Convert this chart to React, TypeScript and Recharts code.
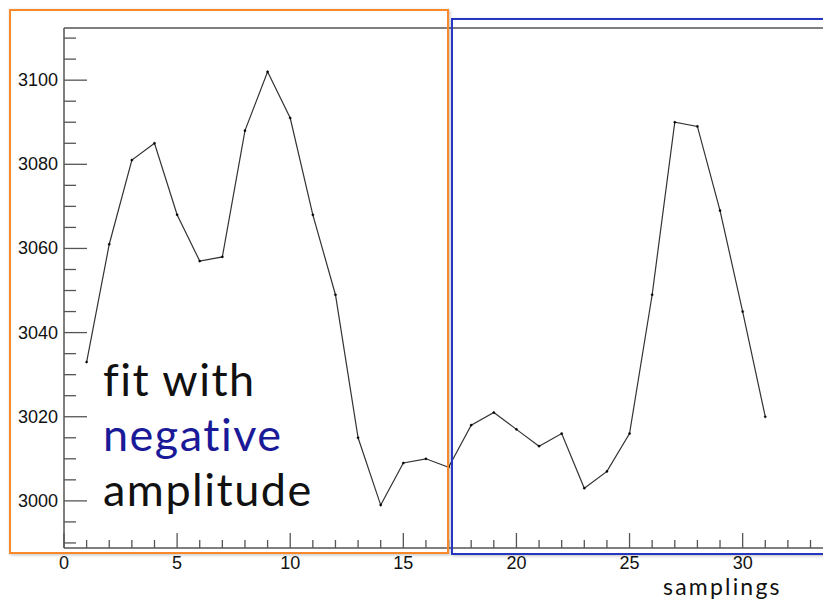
import React from "react";
import { LineChart, Line, XAxis, YAxis, ReferenceLine } from "recharts";

const samplings = [1, 2, 3, 4, 5, 6, 7, 8, 9, 10, 11, 12, 13, 14, 15, 16, 17, 18, 19, 20, 21, 22, 23, 24, 25, 26, 27, 28, 29, 30, 31];
const amplitudes = [3033, 3061, 3081, 3085, 3068, 3057, 3058, 3088, 3102, 3091, 3068, 3049, 3015, 2999, 3009, 3010, 3008, 3018, 3021, 3017, 3013, 3016, 3003, 3007, 3016, 3049, 3090, 3089, 3069, 3045, 3020];

const xTicks = Array.from({ length: 38 }, (_, i) => i);
const xLabels = [0, 5, 10, 15, 20, 25, 30];
const yTicks = Array.from({ length: 25 }, (_, i) => 2990 + i * 5);
const yLabels = [3000, 3020, 3040, 3060, 3080, 3100];
const xDomain = [0, 37];
const yDomain = [2988.8, 3112.4];

const data = samplings.map((s, i) => ({ s, v: amplitudes[i] }));

const XTick = (props: any) => {
  const { x, y, payload } = props;
  const v = payload.value;
  const major = v % 5 === 0;
  return (
    <g>
      <line x1={x} x2={x} y1={y} y2={y - (major ? 15 : 8)} stroke="#555" strokeWidth={1.3} />
      {xLabels.includes(v) && (
        <text x={x} y={y + 21} textAnchor="middle" fontFamily="Liberation Sans, Arial, sans-serif" fontSize={18} fill="#111">
          {v}
        </text>
      )}
    </g>
  );
};

const YTick = (props: any) => {
  const { x, y, payload } = props;
  const v = payload.value;
  const major = v % 20 === 0;
  return (
    <g>
      <line x1={x} x2={x + (major ? 23 : 12)} y1={y} y2={y} stroke="#555" strokeWidth={1.3} />
      {yLabels.includes(v) && (
        <text x={x - 6} y={y + 6} textAnchor="end" fontFamily="Liberation Sans, Arial, sans-serif" fontSize={18} fill="#111">
          {v}
        </text>
      )}
    </g>
  );
};

export default function App() {
  return (
    <div style={{ position: "absolute", left: 0, top: 0, width: 823, height: 600, overflow: "hidden", background: "#fff" }}>
      <LineChart width={901} height={600} data={data} margin={{ top: 28, right: 0, bottom: 22, left: 8 }}>
        <XAxis
          dataKey="s"
          type="number"
          domain={xDomain}
          ticks={xTicks}
          allowDataOverflow
          interval={0}
          tickLine={false}
          tickSize={0}
          tickMargin={0}
          height={30}
          axisLine={{ stroke: "#555", strokeWidth: 1.5 }}
          tick={<XTick />}
        />
        <YAxis
          type="number"
          domain={yDomain}
          ticks={yTicks}
          allowDataOverflow
          interval={0}
          tickLine={false}
          tickSize={0}
          tickMargin={0}
          width={56}
          axisLine={{ stroke: "#555", strokeWidth: 1.5 }}
          tick={<YTick />}
        />
        <ReferenceLine y={yDomain[1]} stroke="#555" strokeWidth={1.5} ifOverflow="visible" />
        <Line
          type="linear"
          dataKey="v"
          stroke="#333"
          strokeWidth={1.2}
          dot={{ r: 1.1, fill: "#000", stroke: "#000", strokeWidth: 0.4 }}
          isAnimationActive={false}
        />
      </LineChart>
      <div
        style={{
          position: "absolute",
          left: 9,
          top: 9,
          width: 440,
          height: 545,
          boxSizing: "border-box",
          border: "2.5px solid #f7892a",
          boxShadow: "1px 1px 3px rgba(0,0,0,0.25)",
        }}
      />
      <div
        style={{
          position: "absolute",
          left: 451,
          top: 18,
          width: 400,
          height: 537,
          boxSizing: "border-box",
          border: "2.5px solid #2536c0",
          boxShadow: "1px 1px 3px rgba(0,0,0,0.25)",
        }}
      />
      <div
        style={{
          position: "absolute",
          left: 103,
          top: 352,
          fontFamily: "Lato, sans-serif",
          fontSize: 45,
          lineHeight: "55px",
          letterSpacing: 1.5,
          color: "#111",
          whiteSpace: "nowrap",
        }}
      >
        <div>fit with</div>
        <div style={{ color: "#1a1a99" }}>negative</div>
        <div>amplitude</div>
      </div>
      <div
        style={{
          position: "absolute",
          left: 663,
          top: 572,
          fontFamily: "Lato, sans-serif",
          fontSize: 23,
          letterSpacing: 2.2,
          color: "#111",
          whiteSpace: "nowrap",
        }}
      >
        samplings
      </div>
    </div>
  );
}
